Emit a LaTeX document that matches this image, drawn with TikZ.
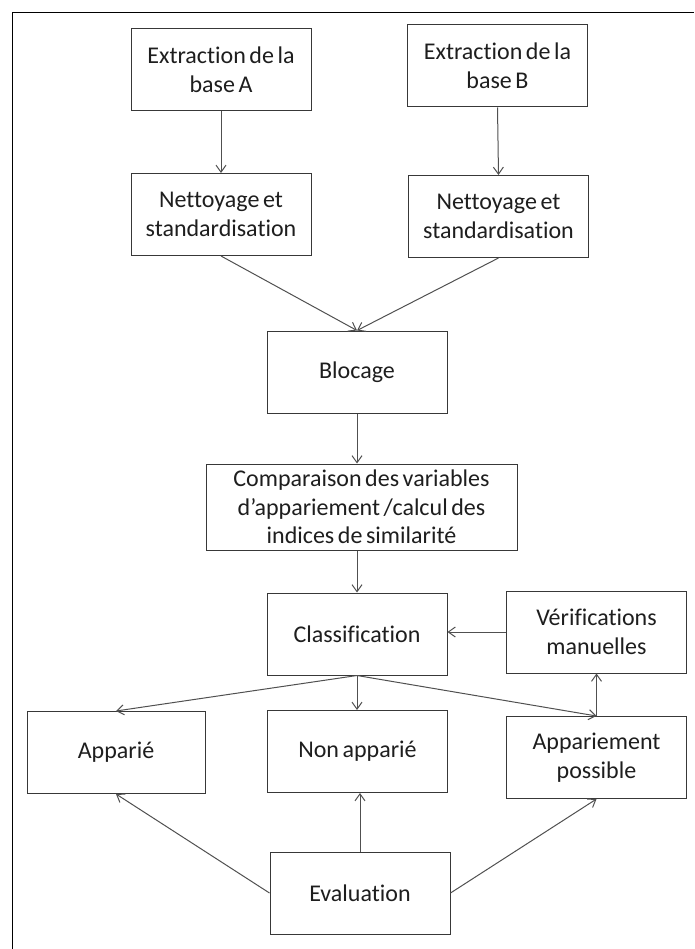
\documentclass[tikz,border=0pt]{standalone}
\usepackage{fontspec}
\setmainfont{Carlito}[Ligatures={NoCommon,NoRequired,NoContextual}, Contextuals=NoAlternate]
\usetikzlibrary{arrows.meta}
\definecolor{boxc}{HTML}{383838}
\definecolor{linec}{HTML}{505050}
\definecolor{txtc}{HTML}{1E1E1E}
\begin{document}
\begin{tikzpicture}[x=1pt,y=-1pt,
  box/.style={draw=boxc, line width=1pt, fill=white, minimum width=180pt,
    minimum height=82pt, inner xsep=2pt, inner ysep=1pt, align=center, text=txtc,
    font={\fontsize{24}{28.5}\selectfont\spaceskip=0.15em plus 0.05em}},
  conn/.style={draw=linec, line width=1pt, -{Straight Barb[length=7pt,width=10pt]}}]
\useasboundingbox (0,0) rectangle (694,949);
\draw[line width=1.1pt] (12.3,949) -- (12.3,12.3) -- (694,12.3);

\node[box] (ea) at (221,70) {Extraction de la\\base A};
\node[box] (eb) at (497.5,66) {Extraction de la\\base B};
\node[box] (na) at (221,214.5) {Nettoyage et\\standardisation};
\node[box] (nb) at (498.5,216.5) {Nettoyage et\\standardisation};
\node[box] (blo) at (357,372) {Blocage};
\node[box, minimum width=311pt, minimum height=86pt] (cmp) at (361.5,507) {Comparaison des variables\\d’appariement /calcul des\\indices de similarité};
\node[box] (cls) at (357,634) {Classification};
\node[box] (ver) at (596.5,632) {Vérifications\\manuelles};
\node[box, minimum width=178pt] (app) at (116,752.5) {Apparié};
\node[box] (non) at (357.5,751.5) {Non apparié};
\node[box] (pos) at (596.5,757.5) {Appariement\\possible};
\node[box] (ev) at (360,893) {Evaluation};

\draw[conn] (ea.south) -- (na.north);
\draw[conn] (eb.south) -- (nb.north);
\draw[conn] (na.south) -- (blo.north);
\draw[conn] (nb.south) -- (blo.north);
\draw[conn] (blo.south) -- (blo.south |- cmp.north);
\draw[conn] (blo.south |- cmp.south) -- (cls.north);
\draw[conn] (ver.west) -- (ver.west -| cls.east);
\draw[conn] (cls.south) -- (app.north);
\draw[conn] (cls.south) -- (cls.south |- non.north);
\draw[conn] (cls.south) -- (pos.north);
\draw[conn] (pos.north) -- (ver.south);
\draw[conn] (ev.west) -- (app.south);
\draw[conn] (ev.north) -- (ev.north |- non.south);
\draw[conn] (ev.east) -- (pos.south);
\end{tikzpicture}
\end{document}
